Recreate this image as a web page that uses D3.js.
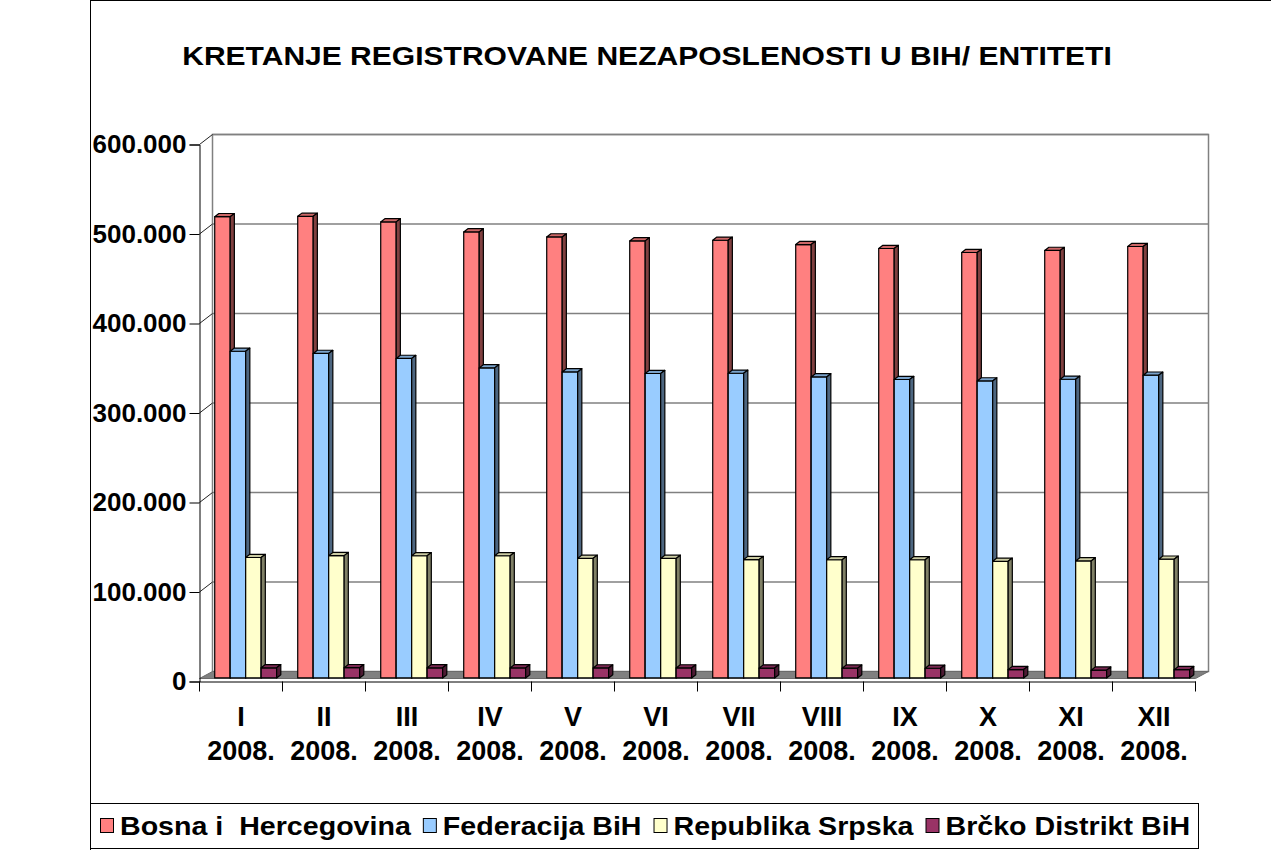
<!DOCTYPE html>
<html>
<head>
<meta charset="utf-8">
<script src="https://cdn.jsdelivr.net/npm/d3@7"></script>
<style>
  body { margin: 0; background: #fff; }
  text { font-family: "Liberation Sans", Arial, sans-serif; font-weight: bold; fill: #000; white-space: pre; }
</style>
</head>
<body>
<div id="chart"></div>
<script>
// Data
var months = ['I', 'II', 'III', 'IV', 'V', 'VI', 'VII', 'VIII', 'IX', 'X', 'XI', 'XII'];
var yearLabel = '2008.';
var seriesNames = ['Bosna i  Hercegovina', 'Federacija BiH', 'Republika Srpska', 'Brčko Distrikt BiH'];
var bih = [515300, 515700, 509500, 498300, 492700, 488300, 489000, 484200, 479800, 475300, 477600, 482000];
var fbih = [365000, 362500, 356900, 346400, 341900, 340100, 340400, 336300, 333400, 331800, 333700, 338200];
var rs = [134500, 136600, 136500, 136500, 133600, 133500, 132200, 132000, 132000, 130300, 130700, 132600];
var brcko = [11300, 11400, 11300, 11200, 11100, 11100, 11000, 10900, 10800, 9300, 8700, 9200];
var yTicks = [0, 100000, 200000, 300000, 400000, 500000, 600000];
var title = 'KRETANJE REGISTROVANE NEZAPOSLENOSTI U BIH/ ENTITETI';

var seriesValues = [bih, fbih, rs, brcko];
var colors = [
  {front: '#ff8080', top: '#cc6666', side: '#804040'},
  {front: '#99ccff', top: '#7aa3cc', side: '#4d6680'},
  {front: '#ffffcc', top: '#ccccA3', side: '#808066'},
  {front: '#993366', top: '#7a2952', side: '#4d1a33'}
];

var W = 1271, H = 850;
var svg = d3.select('#chart').append('svg')
    .attr('width', W).attr('height', H);

// outer chart border
svg.append('rect')
    .attr('x', 90.5).attr('y', 0.5)
    .attr('width', 1300).attr('height', 900)
    .attr('fill', '#fff').attr('stroke', '#000').attr('stroke-width', 1);

// scales (front plane)
var x0 = d3.scaleBand().domain(months).range([199.5, 1195.5]).paddingInner(0).paddingOuter(0);
var x1 = d3.scaleBand().domain(seriesNames)
    .range([x0.bandwidth() * 0.127, x0.bandwidth() * 0.873]).paddingInner(0);
var y = d3.scaleLinear().domain([0, 600000]).range([681.5, 144.5]);

// 3D depth projection
var depthX = 13, depthY = -10;
function proj(px, py, z) { return [px + depthX * z, py + depthY * z]; }
function poly(pts) { return pts.map(function(p) { return p[0] + ',' + p[1]; }).join(' '); }

var xL = x0.range()[0], xR = x0.range()[1], y0 = y(0), yTop = y(600000);

// back wall
var wall = svg.append('g');
var bl = proj(xL, yTop, 1), br = proj(xR, y0, 1);
wall.append('rect')
    .attr('x', bl[0]).attr('y', bl[1])
    .attr('width', br[0] - bl[0]).attr('height', br[1] - bl[1])
    .attr('fill', '#fff').attr('stroke', '#808080').attr('stroke-width', 1.5);

// back wall gridlines
wall.selectAll('line.grid')
    .data(yTicks.filter(function(d) { return d > 0; }))
  .enter().append('line')
    .attr('class', 'grid')
    .attr('x1', function(d) { return proj(xL, y(d), 1)[0]; })
    .attr('x2', function(d) { return proj(xR, y(d), 1)[0]; })
    .attr('y1', function(d) { return proj(xL, y(d), 1)[1]; })
    .attr('y2', function(d) { return proj(xR, y(d), 1)[1]; })
    .attr('stroke', '#808080').attr('stroke-width', 1.5);

// side wall diagonals
wall.selectAll('line.side')
    .data(yTicks.filter(function(d) { return d > 0; }))
  .enter().append('line')
    .attr('class', 'side')
    .attr('x1', xL).attr('y1', function(d) { return y(d); })
    .attr('x2', function(d) { return proj(xL, y(d), 1)[0]; })
    .attr('y2', function(d) { return proj(xL, y(d), 1)[1]; })
    .attr('stroke', '#222').attr('stroke-width', 1);

// floor
svg.append('polygon')
    .attr('points', poly([
      [xL, y0 - 3], [xR, y0 - 3], proj(xR, y0, 1), proj(xL, y0, 1)
    ]))
    .attr('fill', '#808080').attr('stroke', '#6a6a6a').attr('stroke-width', 1);

// bars
var zA = 0.36, zB = 0.68;
var bars = svg.append('g');
months.forEach(function(m, i) {
  seriesNames.forEach(function(s, j) {
    var v = seriesValues[j][i];
    var l = x0(m) + x1(s), r = l + x1.bandwidth();
    var yt = y(v);
    var g = bars.append('g')
        .attr('stroke', '#000').attr('stroke-width', 1.2).attr('stroke-linejoin', 'round');
    g.append('polygon')
        .attr('points', poly([proj(l, yt, zA), proj(r, yt, zA), proj(r, y0, zA), proj(l, y0, zA)]))
        .attr('fill', colors[j].front);
    g.append('polygon')
        .attr('points', poly([proj(l, yt, zA), proj(r, yt, zA), proj(r, yt, zB), proj(l, yt, zB)]))
        .attr('fill', colors[j].top);
    g.append('polygon')
        .attr('points', poly([proj(r, yt, zA), proj(r, y0, zA), proj(r, y0, zB), proj(r, yt, zB)]))
        .attr('fill', colors[j].side);
  });
});

// y axis
var yAxis = d3.axisLeft(y).tickValues(yTicks).tickSize(10).tickPadding(3)
    .tickFormat(function(d) { return d === 0 ? '0' : d3.format(',')(d).replace(/,/g, '.'); });
var yg = svg.append('g').attr('transform', 'translate(' + xL + ',0)').call(yAxis);
yg.select('.domain').attr('stroke', '#000');
yg.selectAll('.tick line').attr('stroke', '#000');
yg.selectAll('.tick text')
    .style('font-family', '"Liberation Sans", Arial, sans-serif')
    .style('font-weight', 'bold').style('font-size', '26px').attr('fill', '#000');

// x axis
var xAxis = d3.axisBottom(x0).tickSize(0).tickFormat('');
var xg = svg.append('g').attr('transform', 'translate(0,' + y0 + ')').call(xAxis);
xg.select('.domain').attr('stroke', '#000');
xg.selectAll('line.bound')
    .data(months.map(function(m) { return x0(m); }).concat([xR]))
  .enter().append('line')
    .attr('class', 'bound')
    .attr('x1', function(d) { return d; }).attr('x2', function(d) { return d; })
    .attr('y1', 0).attr('y2', 10)
    .attr('stroke', '#000');

var lab = svg.append('g').selectAll('text.cat')
    .data(months)
  .enter().append('text')
    .attr('class', 'cat')
    .attr('text-anchor', 'middle')
    .style('font-size', '27px')
    .attr('x', function(d) { return x0(d) + x0.bandwidth() / 2; })
    .attr('y', 726);
lab.append('tspan').text(function(d) { return d; });
lab.append('tspan')
    .attr('x', function(d) { return x0(d) + x0.bandwidth() / 2; })
    .attr('dy', 34)
    .text(yearLabel);

// title (slightly stretched like the original)
svg.append('text')
    .attr('transform', 'translate(647,65) scale(1.155,1)')
    .attr('text-anchor', 'middle')
    .style('font-size', '26px')
    .text(title);

// legend
var legend = svg.append('g');
legend.append('rect')
    .attr('x', 90.5).attr('y', 803.5)
    .attr('width', 1108).attr('height', 45)
    .attr('fill', '#fff').attr('stroke', '#000').attr('stroke-width', 1);

var stretch = 1.1;
var lx = 100;
seriesNames.forEach(function(s, j) {
  legend.append('rect')
      .attr('x', lx + 0.5).attr('y', 818.5)
      .attr('width', 13).attr('height', 14)
      .attr('fill', colors[j].front).attr('stroke', '#000').attr('stroke-width', 1);
  var t = legend.append('text')
      .attr('transform', 'translate(' + (lx + 20) + ',835) scale(' + stretch + ',1)')
      .style('font-size', '26px')
      .text(s);
  lx = lx + 20 + t.node().getComputedTextLength() * stretch + 12;
});
</script>
</body>
</html>
